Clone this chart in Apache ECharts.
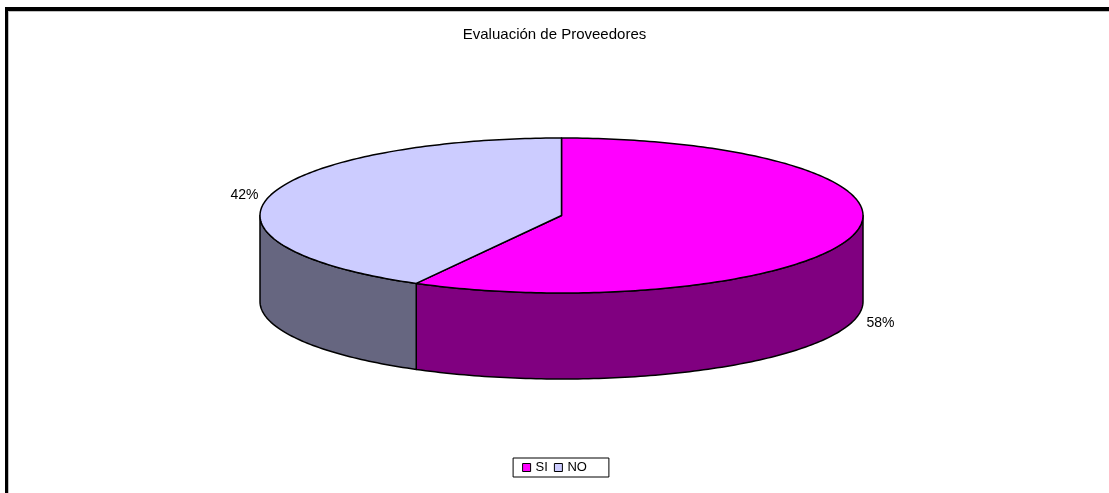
<!DOCTYPE html>
<html>
<head>
<meta charset="utf-8">
<title>Evaluación de Proveedores</title>
<script src="https://cdn.jsdelivr.net/npm/echarts@6/dist/echarts.min.js"></script>
<style>
  html, body { margin: 0; padding: 0; background: #fff; overflow: hidden; }
  .frame {
    position: absolute; left: 5px; top: 7px; width: 1200px; height: 600px;
    border-left: 3px solid #000; border-top: 4px solid #000;
    box-shadow: inset 1px 1px 0 #c0c0c0;
  }
  #chart { position: absolute; left: 0; top: 0; width: 1109px; height: 493px; }
</style>
</head>
<body>
<div class="frame"></div>
<div id="chart"></div>
<script>
// data
const categories = ['SI', 'NO'];
const values = [58, 42];

// colours (top face / side wall)
const topColors = ['#FF00FF', '#CCCCFF'];
const sideColors = ['#800080', '#666680'];

// 3d pie geometry
const cx = 561.5, cy = 215.5, rx = 301.5, ry = 77.5, depth = 86;

const total = values.reduce((a, b) => a + b, 0);
const starts = [];
let acc = 0;
for (let i = 0; i < values.length; i++) {
  starts.push(acc / total * 360);
  acc += values[i];
}

function pt(deg, dy) {
  const r = deg * Math.PI / 180;
  return [cx + rx * Math.sin(r), cy - ry * Math.cos(r) + (dy || 0)];
}

function arc(a0, a1, dy) {
  const pts = [];
  const n = Math.max(2, Math.ceil(Math.abs(a1 - a0)));
  for (let k = 0; k <= n; k++) {
    pts.push(pt(a0 + (a1 - a0) * k / n, dy));
  }
  return pts;
}

function renderSlice(params, api) {
  const i = params.seriesIndex;
  const v = api.value(0);
  const a0 = starts[i];
  const a1 = a0 + v / total * 360;
  const children = [];

  // front side wall (visible part between 90 and 270 deg)
  const s = Math.max(a0, 90), e = Math.min(a1, 270);
  if (e > s) {
    const top = arc(s, e, 0);
    const bottom = arc(e, s, depth);
    children.push({
      type: 'polygon',
      shape: { points: top.concat(bottom) },
      style: { fill: sideColors[i], stroke: '#000', lineWidth: 1.5, lineJoin: 'round' }
    });
  }

  // top face
  children.push({
    type: 'polygon',
    shape: { points: [[cx, cy]].concat(arc(a0, a1, 0)) },
    style: { fill: topColors[i], stroke: '#000', lineWidth: 1.5, lineJoin: 'round' }
  });

  // percent label
  const mid = (a0 + a1) / 2;
  const front = Math.cos(mid * Math.PI / 180) <= 0;
  const p = pt(mid, front ? depth : 0);
  const right = Math.sin(mid * Math.PI / 180) >= 0;
  children.push({
    type: 'text',
    style: {
      text: Math.round(v / total * 100) + '%',
      x: p[0] + (right ? 13 : -11),
      y: p[1] + (front ? 2 : -1),
      align: right ? 'left' : 'right',
      verticalAlign: 'middle',
      fill: '#000',
      fontSize: 14,
      fontFamily: 'Liberation Sans, Arial, sans-serif'
    }
  });

  return { type: 'group', children: children };
}

const chart = echarts.init(document.getElementById('chart'));

chart.setOption({
  animation: false,
  title: {
    text: 'Evaluación de Proveedores',
    left: 'center',
    top: 22,
    textStyle: {
      fontSize: 15,
      fontWeight: 'normal',
      color: '#000',
      fontFamily: 'Liberation Sans, Arial, sans-serif'
    }
  },
  legend: {
    data: categories,
    left: 'center',
    top: 458,
    padding: [3, 22, 3, 9],
    borderColor: '#000',
    borderWidth: 1,
    itemWidth: 8,
    itemHeight: 8,
    itemGap: 6,
    icon: 'rect',
    itemStyle: { borderColor: '#000', borderWidth: 1 },
    textStyle: { fontSize: 13, color: '#000', fontFamily: 'Liberation Sans, Arial, sans-serif' }
  },
  series: categories.map((name, i) => ({
    name: name,
    type: 'custom',
    coordinateSystem: 'none',
    silent: true,
    itemStyle: { color: topColors[i] },
    data: [[values[i]]],
    renderItem: renderSlice
  }))
});
</script>
</body>
</html>
